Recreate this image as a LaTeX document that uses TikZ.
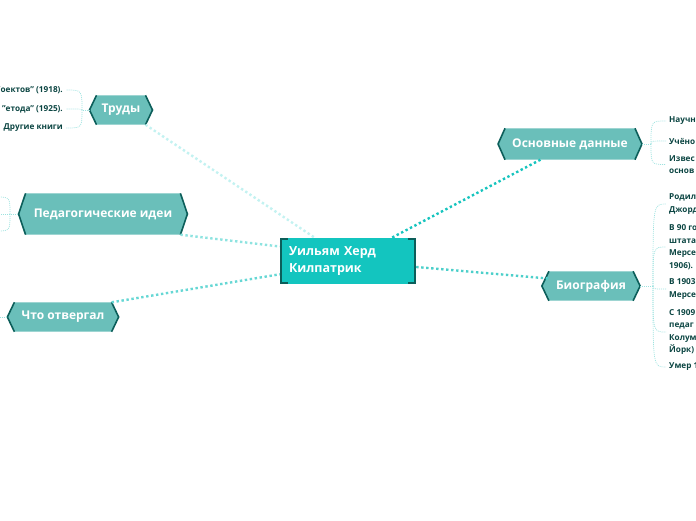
\documentclass[tikz,border=0pt]{standalone}
\usepackage{fontspec}
\setmainfont{Open Sans}
\usetikzlibrary{backgrounds}
\definecolor{maincol}{HTML}{13C5BF}
\definecolor{topiccol}{HTML}{6ABFBA}
\definecolor{edgedark}{HTML}{0C5E5A}
\definecolor{leafcol}{HTML}{0B4542}
\definecolor{twigcol}{HTML}{9CE2DF}
\definecolor{trudylink}{HTML}{C3F2F1}
\definecolor{ideaslink}{HTML}{8EE3E0}
\definecolor{rejectlink}{HTML}{66D7D4}
\definecolor{osnovlink}{HTML}{16C4BE}
\definecolor{biolink}{HTML}{4CCFCA}
\newcommand\dq{\symbol{34}}
\begin{document}
\begin{tikzpicture}[x=1pt,y=-1pt,
  main/.style={fill=maincol,text=white,font=\bfseries\fontsize{12.5}{17}\selectfont,minimum width=136pt,minimum height=46pt,text width=118pt,inner xsep=9pt,align=left},
  topic/.style={text=white,font=\bfseries\fontsize{12}{14}\selectfont,minimum height=29pt,inner xsep=7pt,inner ysep=0pt},
  leaf/.style={text=leafcol,font=\bfseries\fontsize{8.2}{12.5}\selectfont,align=left,inner xsep=3pt,inner ysep=1pt},
  link/.style={line width=2.4pt,dash pattern=on 2.4pt off 2.6pt},
  twig/.style={twigcol,line width=0.7pt,dash pattern=on 1pt off 1pt}]
\useasboundingbox (0,0) rectangle (696,520);
\clip (0,0) rectangle (696,520);

\node[main] (kilp) at (348,261) {Уильям Херд\\Килпатрик};
\node[topic,inner xsep=5pt] (trudy) at (121,110) {Труды};
\node[topic,minimum height=31pt] (osnov) at (570,144) {Основные данные};
\node[topic] (bio) at (591,286) {Биография};
\node[topic,minimum height=41pt,inner xsep=8pt] (ideas) at (103,214) {Педагогические идеи};
\node[topic] (reject) at (63,317) {Что отвергал};

\begin{scope}[on background layer]
\foreach \t in {trudy,osnov,bio,ideas,reject}{
  \fill[topiccol] (\t.north west) -- (\t.north east) -- ([xshift=7pt]\t.east) -- (\t.south east) -- (\t.south west) -- ([xshift=-7pt]\t.west) -- cycle;
  \draw[edgedark,line width=1.6pt] (\t.north east) -- ([xshift=7pt]\t.east) -- (\t.south east);
  \draw[edgedark,line width=1.6pt] (\t.north west) -- ([xshift=-7pt]\t.west) -- (\t.south west);
}
\end{scope}
% brackets of the central topic
\draw[edgedark,line width=2.5pt] ([xshift=8pt,yshift=-1.2pt]kilp.north west) -| ([xshift=1.2pt,yshift=1.2pt]kilp.south west) -- ++(7,0);
\draw[edgedark,line width=2.5pt] ([xshift=-8pt,yshift=-1.2pt]kilp.north east) -| ([xshift=-1.2pt,yshift=1.2pt]kilp.south east) -- ++(-7,0);

% main branches
\draw[link,trudylink] (trudy.south east) -- (kilp.145);
\draw[link,ideaslink] (ideas.south east) -- (kilp.168);
\draw[link,rejectlink] (reject.north east) -- (kilp.191);
\draw[link,osnovlink] (osnov.208) -- (kilp.28);
\draw[link,biolink] (kilp.-5) -- (bio.170);

% Труды
\coordinate (tj) at (82,110);
\node[leaf,anchor=east] (t1) at (66,90) {\dq оектов\dq{} (1918).};
\node[leaf,anchor=east] (t2) at (66,109) {\dq етода\dq{} (1925).};
\node[leaf,anchor=east] (t3) at (66,128) {Другие книги};
\draw[twig] ([xshift=-7pt]trudy.west) -- (tj);
\foreach \l in {t1,t2,t3}
  \draw[twig] (tj) .. controls (tj|-\l) .. (\l.east);

% Основные данные
\coordinate (oj) at (651,144);
\node[leaf,anchor=west] (o1) at (666,121) {Научн};
\node[leaf,anchor=west] (o2) at (666,141) {Учёно};
\node[leaf,anchor=west] (o3) at (666,164.5) {Извес\\основ};
\draw[twig] ([xshift=7pt]osnov.east) -- (oj);
\foreach \l in {o1,o2,o3}
  \draw[twig] (oj) .. controls (oj|-\l) .. (\l.west);

% Биография
\coordinate (bj) at (653,286);
\node[leaf,anchor=west] (b1) at (666,204) {Родил\\Джорд};
\node[leaf,anchor=west] (b2) at (666,247) {В 90 го\\штата\\Мерсе\\1906).};
\node[leaf,anchor=west] (b3) at (666,289) {В 1903\\Мерсе};
\node[leaf,anchor=west] (b4) at (666,332) {С 1909\\педаг\\Колум\\Йорк)};
\node[leaf,anchor=west] (b5) at (666,367) {Умер 1};
\draw[twig] ([xshift=7pt]bio.east) -- (bj);
\foreach \l in {b1,b2,b3,b4,b5}
  \draw[twig] (bj) .. controls (bj|-\l) .. (\l.west);

% Педагогические идеи
\coordinate (ij) at (10,214);
\coordinate (i1) at (-4,197);
\coordinate (i2) at (-4,214);
\coordinate (i3) at (-4,231);
\draw[twig] ([xshift=-8pt]ideas.west) -- (ij);
\foreach \l in {i1,i2,i3}
  \draw[twig] (ij) .. controls (ij|-\l) .. (\l);

% Что отвергал
\coordinate (r1) at (-4,317);
\draw[twig] ([xshift=-7pt]reject.west) -- (r1);
\end{tikzpicture}
\end{document}
